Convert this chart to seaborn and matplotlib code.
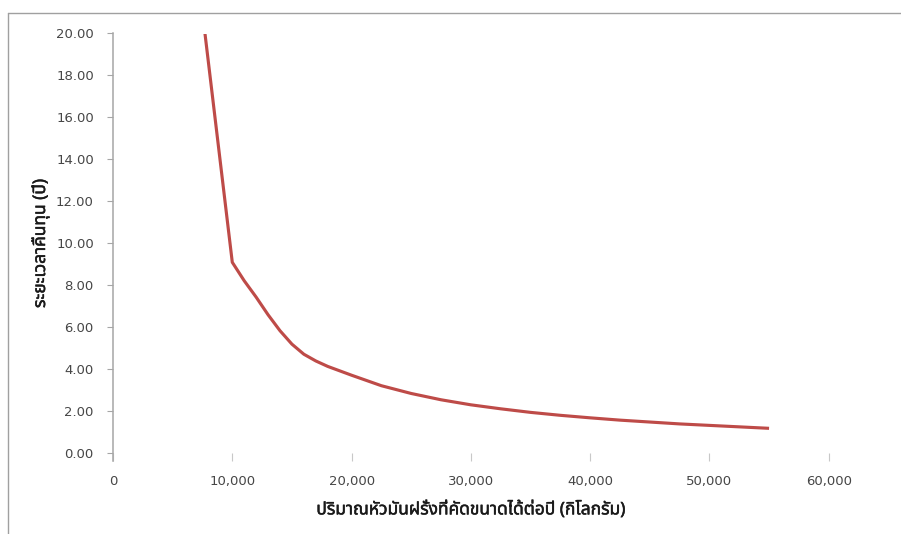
import numpy as np
import pandas as pd
import matplotlib
matplotlib.use("Agg")
import matplotlib.pyplot as plt
import seaborn as sns
from matplotlib import font_manager as fm
from matplotlib.ft2font import FT2Font
from matplotlib.lines import Line2D
import matplotlib.patheffects as pe

# ---- data ----
quantity_kg = [7500, 10000, 11000, 12000, 13000, 14000, 15000, 16000, 17000, 18000,
               19000, 20000, 22500, 25000, 27500, 30000, 32500, 35000, 37500, 40000,
               42500, 45000, 47500, 50000, 52500, 55000]
payback_years = [21.0, 9.10, 8.22, 7.44, 6.60, 5.84, 5.20, 4.72, 4.40, 4.14,
                 3.93, 3.72, 3.22, 2.85, 2.55, 2.31, 2.12, 1.95, 1.81, 1.69,
                 1.58, 1.49, 1.40, 1.33, 1.26, 1.19]

x_ticks = [0, 10000, 20000, 30000, 40000, 50000, 60000]
x_tick_labels = ["0", "10,000", "20,000", "30,000", "40,000", "50,000", "60,000"]
y_ticks = [0, 2, 4, 6, 8, 10, 12, 14, 16, 18, 20]
y_tick_labels = ["0.00", "2.00", "4.00", "6.00", "8.00", "10.00",
                 "12.00", "14.00", "16.00", "18.00", "20.00"]

x_label = "ปริมาณหัวมันฝรั่งที่คัดขนาดได้ต่อปี (กิโลกรัม)"
y_label = "ระยะเวลาคืนทุน (ปี)"


def find_thai_font():
    pref = ["Noto Sans Thai", "Noto Sans Thai UI", "Noto Sans Thai Looped",
            "Tahoma", "Leelawadee UI", "Loma", "Garuda", "Sarabun",
            "Tlwg Typo", "Norasi", "Kinnari", "Noto Serif Thai"]
    cands = {}
    for f in fm.fontManager.ttflist:
        try:
            cm = FT2Font(f.fname).get_charmap()
        except Exception:
            continue
        if 0x0E1B in cm and 0x0E35 in cm and 0x0E21 in cm:
            cands.setdefault(f.name, []).append(f)
    for p in pref:
        if p in cands:
            return p
    return next(iter(cands), None)


sns.set_style("white")
thai = find_thai_font()
families = ([thai] if thai else []) + ["DejaVu Sans"]
plt.rcParams["font.family"] = ["DejaVu Sans"]

df = pd.DataFrame({"qty": quantity_kg, "years": payback_years})

fig = plt.figure(figsize=(9.01, 5.34), dpi=100)
ax = fig.add_axes([113 / 901, 80.7 / 534, 715.7 / 901, 419.8 / 534])

sns.lineplot(data=df, x="qty", y="years", ax=ax, color="#be4b48",
             linewidth=2.25, solid_capstyle="butt", solid_joinstyle="round")

ax.set_xlim(0, 60000)
ax.set_ylim(0, 20)
ax.set_xticks(x_ticks)
ax.set_xticklabels(x_tick_labels)
ax.set_yticks(y_ticks)
ax.set_yticklabels(y_tick_labels)

for s in ["top", "right", "bottom"]:
    ax.spines[s].set_visible(False)
ax.spines["left"].set_color("#a6a6a6")
ax.spines["left"].set_linewidth(1.1)
ax.spines["left"].set_bounds(-0.37, 20)

ax.tick_params(axis="x", direction="out", length=5.8, width=0.8, color="#c8c8c8",
               pad=10, labelsize=9.5, labelcolor="#464646", bottom=True)
ax.tick_params(axis="y", direction="out", length=4.3, width=0.8, color="#a6a6a6",
               pad=9.5, labelsize=9.5, labelcolor="#464646", left=True)

bold = [pe.withStroke(linewidth=0.35, foreground="#1a1a1a")]
ax.set_xlabel(x_label, family=families, fontsize=12.5, fontweight="bold",
              color="#1a1a1a", path_effects=bold)
ax.set_ylabel(y_label, family=families, fontsize=12.5, fontweight="bold",
              color="#1a1a1a", path_effects=bold)
ax.xaxis.set_label_coords(0.5, -0.112)
ax.yaxis.set_label_coords(-0.088, 0.5)

# chart-area border (top and left edges visible in the reference)
fig.add_artist(Line2D([8 / 901, 1.0], [1 - 13 / 534, 1 - 13 / 534],
                      transform=fig.transFigure, color="#a0a0a0", linewidth=1.0))
fig.add_artist(Line2D([8 / 901, 8 / 901], [0.0, 1 - 13 / 534],
                      transform=fig.transFigure, color="#a0a0a0", linewidth=1.0))

fig.savefig("out.png", dpi=100)
